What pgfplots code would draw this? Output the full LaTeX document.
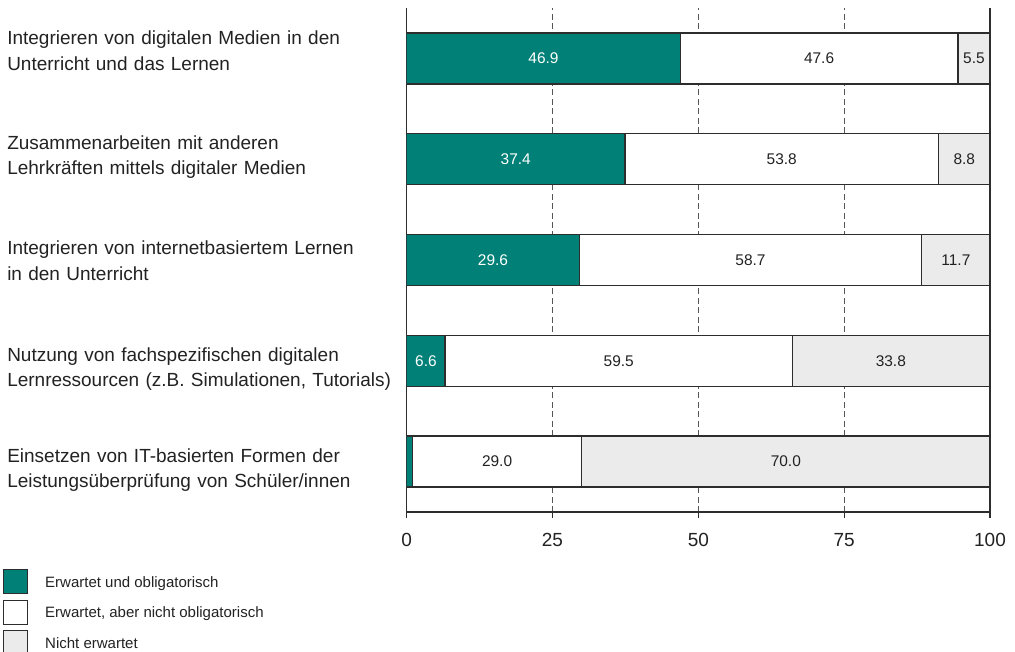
\documentclass[border=0pt]{standalone}
\usepackage{fontspec}
\setmainfont{Liberation Sans}
\usepackage{pgfplots}
\usepackage{pgfplotstable}
\pgfplotsset{compat=1.18}
\definecolor{teal1}{RGB}{0,128,119}
\definecolor{lgray}{RGB}{235,235,235}
\definecolor{edge}{RGB}{45,45,45}
\definecolor{txt}{RGB}{34,34,34}
\definecolor{gridc}{RGB}{85,85,85}

\pgfplotstableread{
y a b c
4 46.9 47.6 5.5
3 37.4 53.8 8.8
2 29.6 58.7 11.7
1 6.6 59.5 33.8
0 1.0 29.0 70.0
}\data

\begin{document}
\begin{tikzpicture}
\pgfplotsset{
  base/.style={
    scale only axis, width=437.5pt, height=378pt,
    xmin=0, xmax=100, ymin=-0.5, ymax=4.5,
  },
  mylegend/.style={legend image code/.code={\draw[##1, line width=0.75pt] (0pt,-4.7pt) rectangle (18pt,13.3pt);}},
}
\begin{axis}[base,
  xbar stacked, bar width=38.25pt,
  axis x line*=bottom, axis y line*=left,
  axis line style={edge, line width=0.9pt},
  xtick={0,25,50,75}, extra x ticks={100},
  extra x tick style={grid style={solid, edge, line width=0.9pt}},
  xmajorgrids, grid style={dash pattern=on 4.5pt off 2.6pt, gridc, line width=0.8pt},
  tick align=outside, major tick length=4.5pt,
  xtick style={edge, line width=0.9pt},
  ytick style={draw=none},
  ytick={4.133,3.101,2.050,0.998,-0.004},
  yticklabels={
    {Integrieren von digitalen Medien in den\\Unterricht und das Lernen},
    {Zusammenarbeiten mit anderen\\Lehrkräften mittels digitaler Medien},
    {Integrieren von internetbasiertem Lernen\\in den Unterricht},
    {Nutzung von fachspezifischen digitalen\\Lernressourcen (z.B. Simulationen, Tutorials)},
    {Einsetzen von IT-basierten Formen der\\Leistungsüberprüfung von Schüler/innen}},
  yticklabel style={anchor=base west, text width=296pt, align=left, inner sep=0pt, xshift=-295.25pt, font=\fontsize{14.25}{19.1}\selectfont, text=txt},
  xticklabel style={font=\fontsize{14.25}{17}\selectfont, text=txt, inner sep=0pt, yshift=-11.25pt},
  /pgf/number format/assume math mode=true,
  legend style={at={(rel axis cs:-0.6921,-0.1131)}, anchor=north west, draw=none, fill=none, inner sep=0pt, row sep=4.1pt, font=\fontsize{11.25}{13}\selectfont, text=txt, cells={anchor=base west}, nodes={inner sep=0pt}, /tikz/every odd column/.append style={column sep=12.75pt}},
]
\addplot[fill=teal1, draw=edge, line width=1.1pt, mylegend] table[x=a, y=y] {\data};
\addplot[fill=white, draw=edge, line width=1.1pt, mylegend] table[x=b, y=y] {\data};
\addplot[fill=lgray, draw=edge, line width=1.1pt, mylegend] table[x=c, y=y] {\data};
\legend{Erwartet und obligatorisch, {Erwartet, aber nicht obligatorisch}, Nicht erwartet}
\coordinate (O) at (rel axis cs:0,0);
\end{axis}
\begin{axis}[base, hide axis, clip=false,
  /pgf/number format/assume math mode=true,
  nodes near coords={\pgfmathprintnumber[fixed,fixed zerofill,precision=1]{\pgfplotspointmeta}},
  every node near coord/.append style={anchor=center, font=\fontsize{11.6}{13}\selectfont, inner sep=0pt},
  point meta=explicit,
]
\addplot[mark=none, draw=none, every node near coord/.append style={text=white}] table[x expr=\thisrow{a}/2, y=y, meta=a, skip coords between index={4}{5}] {\data};
\addplot[mark=none, draw=none, every node near coord/.append style={text=txt}] table[x expr=\thisrow{a}+\thisrow{b}/2, y=y, meta=b] {\data};
\addplot[mark=none, draw=none, every node near coord/.append style={text=txt}] table[x expr=\thisrow{a}+\thisrow{b}+\thisrow{c}/2, y=y, meta=c] {\data};
\end{axis}
\pgfresetboundingbox
\path ([shift={(-305pt,-104.25pt)}]O) rectangle ([shift={(456.25pt,384pt)}]O);
\end{tikzpicture}
\end{document}
